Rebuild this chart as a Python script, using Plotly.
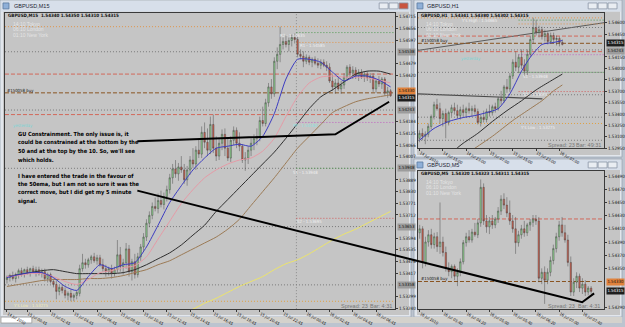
import plotly.graph_objects as go

W, H = 625, 327
def PX(x): return x / W
def PY(y): return 1 - y / H

# ---------------- DATA (prices in points, 1 point = 0.00001) ----------------
m15_open = [153385,153395,153405,153390,153410,153430,153415,153435,153420,153440,
            153425,153435,153415,153425,153390,153410,153375,153360,153325,153345,
            153330,153305,153315,153295,153305,153315,153440,153470,153460,153485,
            153500,153480,153495,153460,153440,153425,153440,153415,153435,153510,
            153450,153470,153540,153425,153475,153410,153500,153550,153600,153670,
            153710,153755,153745,153785,153765,153805,153840,153900,153945,153920,
            153955,153940,153890,153940,153990,153970,154040,154020,154130,154080,
            154040,154170,154050,154010,154075,154120,154050,154000,154090,154140,
            154075,154060,153990,154000,154040,154075,154100,154110,154190,154175,
            154280,154360,154325,154490,154525,154575,154590,154575,154595,154610,
            154600,154525,154515,154490,154510,154485,154500,154480,154470,154485,
            154470,154460,154390,154360,154380,154350,154370,154410,154460,154430,
            154445,154415,154435,154410,154425,154405,154415,154350,154390,154375,
            154400,154330,154340]
m15_high = [153405,153415,153425,153420,153440,153445,153440,153450,153445,153455,
            153450,153450,153440,153440,153420,153420,153390,153380,153355,153360,
            153345,153325,153335,153315,153330,153460,153515,153490,153495,153510,
            153520,153510,153510,153490,153460,153450,153460,153450,153585,153550,
            153490,153570,153560,153490,153515,153520,153565,153620,153690,153730,
            153775,153800,153820,153835,153825,153860,153920,153970,153990,153975,
            154010,153970,153960,154010,154050,154060,154100,154160,154180,154150,
            154210,154220,154110,154100,154145,154150,154100,154110,154160,154155,
            154130,154070,154030,154060,154100,154120,154150,154210,154260,154300,
            154380,154400,154510,154560,154665,154610,154620,154610,154625,154630,
            154615,154550,154540,154525,154520,154510,154515,154505,154500,154500,
            154490,154480,154420,154400,154410,154390,154430,154470,154475,154465,
            154460,154450,154450,154440,154440,154430,154430,154400,154415,154410,
            154410,154360,154350]
m15_low = [153365,153375,153380,153370,153390,153400,153395,153410,153400,153415,
           153400,153405,153395,153375,153370,153365,153345,153285,153305,153315,
           153290,153280,153275,153275,153285,153300,153425,153440,153445,153465,
           153470,153460,153450,153425,153400,153405,153390,153400,153420,153425,
           153410,153440,153400,153380,153390,153395,153480,153530,153580,153650,
           153690,153730,153720,153750,153740,153780,153820,153870,153900,153885,
           153925,153870,153860,153915,153950,153940,154000,154000,154050,154010,
           154020,154025,153985,153990,154040,154010,153985,153980,154065,154050,
           154035,153975,153935,153970,154010,154040,154065,154085,154160,154160,
           154260,154300,154310,154450,154485,154550,154560,154540,154565,154580,
           154510,154500,154460,154475,154470,154460,154470,154455,154450,154460,
           154440,154380,154340,154325,154340,154325,154350,154390,154410,154400,
           154400,154390,154400,154385,154390,154380,154335,154330,154360,154350,
           154315,154305,154310]
m15_close = [153395,153405,153390,153410,153430,153415,153435,153420,153440,153425,
             153435,153415,153425,153390,153410,153375,153360,153325,153345,153330,
             153305,153315,153295,153305,153320,153440,153470,153460,153485,153500,
             153480,153495,153460,153440,153425,153440,153415,153435,153510,153450,
             153470,153540,153425,153475,153410,153500,153550,153600,153670,153710,
             153755,153745,153785,153765,153805,153840,153900,153945,153920,153955,
             153940,153890,153940,153990,153970,154040,154020,154130,154080,154040,
             154170,154050,154010,154075,154120,154050,154000,154090,154140,154075,
             154060,153990,154000,154040,154075,154100,154110,154190,154175,154280,
             154360,154325,154490,154525,154575,154590,154575,154595,154610,154600,
             154525,154515,154490,154510,154485,154500,154480,154470,154485,154470,
             154460,154390,154360,154380,154350,154370,154410,154460,154430,154445,
             154415,154435,154410,154425,154405,154415,154350,154390,154375,154400,
             154330,154340,154315]

m15_ma_x = [0,4,8,12,16,20,24,28,32,36,40,44,48,52,56,60,64,68,72,76,80,84,88,92,96,100,104,108,112,116,120,124,128,132]
m15_ma_blue = [153395,153410,153420,153420,153395,153350,153330,153400,153460,153440,153460,153470,153550,153660,153775,153860,153940,154000,154050,154060,154070,154060,154110,154225,154400,154500,154500,154485,154435,154390,154415,154415,154395,154360]
m15_ma_pink = [153400,153405,153415,153415,153400,153375,153360,153385,153420,153430,153445,153455,153500,153590,153680,153770,153840,153900,153940,153970,153990,154000,154035,154100,154210,154310,154380,154410,154415,154410,154410,154405,154395,154380]
m15_ma_black = [153400,153410,153420,153430,153435,153425,153415,153415,153415,153415,153420,153435,153460,153490,153520,153560,153610,153660,153730,153790,153850,153910,153970,154030,154100,154175,154250,154310,154345,154385,154425,154440,154440,154425]
m15_ma_brown = [153350,153360,153370,153380,153385,153385,153385,153390,153390,153395,153405,153420,153435,153460,153480,153510,153540,153570,153600,153640,153690,153760,153830,153900,153975,154050,154110,154170,154230,154260,154285,154300,154310,154320]
m15_ma_yellow_x = [60,64,68,72,76,80,84,88,92,96,100,104,108,112,116,120,124,128,132]
m15_ma_yellow = [153210,153235,153265,153290,153320,153350,153375,153400,153435,153465,153485,153515,153550,153585,153615,153640,153670,153700,153730]

h1_open = [153080,153145,153106,153132,153236,153366,153522,153470,153340,153405,
           153288,153418,153483,153444,153379,153457,153418,153470,153444,153470,
           153431,153288,153353,153327,153431,153418,153496,153470,153600,153574,
           153756,153730,153899,154081,154016,154146,154042,153964,154185,154380,
           154536,154471,154510,154419,154458,154354,154432,154380,154393,154341]
h1_high = [153184,153210,153171,153275,153392,153561,153600,153548,153444,153470,
           153444,153522,153548,153522,153496,153522,153496,153548,153509,153522,
           153470,153392,153444,153470,153522,153522,153548,153626,153704,153782,
           153860,153938,154120,154224,154185,154250,154120,154250,154432,154666,
           154640,154562,154549,154510,154484,154471,154471,154432,154419,154380]
h1_low = [153028,153054,153002,153093,153197,153327,153444,153275,153236,153080,
          153249,153366,153392,153340,153327,153366,153353,153405,153366,153392,
          153262,153236,153288,153288,153366,153379,153418,153444,153522,153548,
          153678,153691,153860,153964,153938,153990,153899,153912,154146,154328,
          154432,154406,154380,154354,154315,154328,154328,154302,154289,154302]
h1_close = [153145,153106,153132,153236,153366,153522,153470,153340,153405,153288,
            153418,153483,153444,153379,153457,153418,153470,153444,153470,153431,
            153288,153353,153327,153431,153418,153496,153470,153600,153574,153756,
            153730,153899,154081,154016,154146,154042,153964,154185,154380,154536,
            154471,154510,154419,154458,154354,154432,154380,154393,154341,154315]
h1_blue_x = [0,5,10,15,19,23,27,31,35,38,42,46,49]
h1_blue = [153054,153210,153301,153353,153379,153418,153470,153665,153964,154146,154315,154341,154367]
h1_black_x = [12,15,20,25,30,35,40,45,49]
h1_black = [152924,153015,153145,153301,153444,153574,153717,153834,153925]
h1_brown_x = [18,25,32,38,42,46,49]
h1_brown = [152924,153106,153314,153470,153574,153704,153782]

m5_open = [154404,154410,154359,154390,154401,154386,154398,154383,154390,154374,
           154350,154345,154353,154338,154344,154360,154389,154398,154393,154405,
           154401,154419,154473,154422,154413,154422,154416,154425,154437,154455,
           154446,154434,154422,154410,154389,154401,154410,154404,154416,154420,
           154425,154422,154335,154344,154332,154344,154362,154380,154398,154416,
           154404,154393,154359,154314,154329,154338,154320,154326,154314,154320]
m5_high = [154416,154414,154398,154408,154410,154404,154405,154450,154398,154383,
           154359,154356,154356,154350,154365,154393,154404,154408,154410,154419,
           154425,154485,154479,154431,154428,154431,154428,154443,154461,154464,
           154458,154453,154431,154428,154407,154416,154422,154419,154425,154431,
           154431,154428,154350,154353,154350,154368,154386,154404,154422,154428,
           154416,154401,154368,154335,154344,154342,154335,154332,154323,154323]
m5_low = [154395,154350,154353,154383,154380,154380,154375,154372,154368,154345,
          154338,154335,154332,154323,154338,154356,154383,154389,154389,154398,
          154396,154413,154416,154404,154402,154410,154411,154419,154431,154440,
          154428,154416,154404,154372,154383,154395,154398,154399,154407,154413,
          154416,154329,154326,154296,154326,154338,154356,154374,154392,154398,
          154389,154353,154308,154308,154320,154314,154311,154308,154309,154311]
m5_close = [154410,154359,154390,154401,154386,154398,154383,154390,154374,154350,
            154345,154353,154338,154344,154360,154389,154398,154393,154405,154401,
            154419,154473,154422,154413,154422,154416,154425,154437,154455,154446,
            154434,154422,154410,154389,154401,154410,154404,154416,154420,154425,
            154422,154335,154344,154332,154344,154362,154380,154398,154416,154404,
            154393,154359,154314,154329,154338,154320,154326,154314,154320,154315]

# horizontal price levels (points)
level_price = [154665,154635,154585,154538,154425,154243,154220,154180,153948,153948,153695,153653,153358,153275,153054]
level_color = ['#e0964e','#4f9a4f','#e0964e','#7a7a7a','#d2685a','#7a7a7a','#d2685a','#c060c0','#7a7a7a','#4f9a4f','#d25a5a','#7a7a7a','#7a7a7a','#e0a040','#7a7a7a']
level_dash = ['dot','dot','dot','dot','dash','dot','dash','dot','dot','dot','dot','dot','dot','dot','dot']
level_today = [False,True,True,False,False,False,False,True,False,True,True,False,False,False,False]
boxed_levels = [154538,154243,153948,153653,153358]
order_price = 154330
bid_price = 154315

m15_tick_vals = [154715,154656,154597,154479,154420,154184,154125,154066,154007,153889,153830,153771,153712,153594,153535,153476,153417,153299,153240]
h1_tick_vals = [154600,154450,154150,154000,153850,153700,153550,153400,153250,153100,152950]
m5_tick_vals = [154490,154470,154450,154430,154410,154390,154370,154350,154290]

m15_time_bars = [0,7,15,23,31,39,47,55,63,71,79,87,95,103,111,119,127]
m15_time_text = ['14 Jul 2010','15 Jul 00:45','15 Jul 02:45','15 Jul 04:45','15 Jul 06:45','15 Jul 08:45','15 Jul 10:45','15 Jul 12:45','15 Jul 14:45','15 Jul 16:45','15 Jul 18:45','15 Jul 20:45','15 Jul 22:45','16 Jul 00:45','16 Jul 02:45','16 Jul 04:45','16 Jul 06:45']
h1_time_bars = [0,8,16,24,32,40,48]
h1_time_text = ['14 Jul 2010','14 Jul 15:00','14 Jul 23:00','15 Jul 07:00','15 Jul 15:00','15 Jul 23:00','16 Jul 07:00']
m5_time_bars = [0,8,16,24,32,40,48,56]
m5_time_text = ['16 Jul 2010','16 Jul 03:40','16 Jul 04:20','16 Jul 05:00','16 Jul 05:40','16 Jul 06:20','16 Jul 07:00','16 Jul 07:40']

comment1 = ["GU Constrainment. The only issue is, it",
            "could be constrained at the bottom by the",
            "50 and at the top by the 10. So, we'll see",
            "which holds."]
comment2 = ["I have entered the trade in the favour of",
            "the 50ema, but I am not so sure it was the",
            "correct move, but I did get my 5 minute",
            "signal."]

# ---------------- STYLE ----------------
def pts(a): return [v / 100000 for v in a]

CHART = '#c5c5c5'
FRAME = '#e2e6ec'
TITLE = '#d7dfea'
UP = '#8fd08f'
DN = '#cc5e4c'
WICK = '#404040'
NARROW = 'Liberation Sans Narrow, DejaVu Sans Condensed, Liberation Sans, Arial'
SANS = 'Liberation Sans, Arial'

fig = go.Figure()

def add_candles(o, h, l, c, xa, ya):
    fig.add_trace(go.Candlestick(
        x=list(range(len(o))), open=pts(o), high=pts(h), low=pts(l), close=pts(c),
        xaxis=xa, yaxis=ya, whiskerwidth=0,
        increasing=dict(fillcolor=UP, line=dict(color=WICK, width=0.45)),
        decreasing=dict(fillcolor=DN, line=dict(color=WICK, width=0.45)),
        hoverinfo='skip', showlegend=False))

def add_line(x, y, color, xa, ya, width=1):
    fig.add_trace(go.Scatter(x=x, y=pts(y), mode='lines', xaxis=xa, yaxis=ya,
                             line=dict(color=color, width=width, shape='spline', smoothing=0.6),
                             hoverinfo='skip', showlegend=False))

# M15
add_line(m15_ma_yellow_x, m15_ma_yellow, '#ece46a', 'x', 'y')
add_line(m15_ma_x, m15_ma_brown, '#9b7a55', 'x', 'y')
add_line(m15_ma_x, m15_ma_black, '#2e2e2e', 'x', 'y')
add_line(m15_ma_x, m15_ma_pink, '#e59aa6', 'x', 'y')
add_candles(m15_open, m15_high, m15_low, m15_close, 'x', 'y')
add_line(m15_ma_x, m15_ma_blue, '#3c3cc0', 'x', 'y')
# H1
add_line(h1_brown_x, h1_brown, '#9b7a55', 'x2', 'y2')
add_line(h1_black_x, h1_black, '#2e2e2e', 'x2', 'y2')
add_candles(h1_open, h1_high, h1_low, h1_close, 'x2', 'y2')
add_line(h1_blue_x, h1_blue, '#3c3cc0', 'x2', 'y2')
# M5
add_candles(m5_open, m5_high, m5_low, m5_close, 'x3', 'y3')

# axis geometry
ranges = {
    'm15': dict(x=[-0.685, 133.56], y=[1.53235, 1.54735], xd=[PX(5), PX(397)], yd=[PY(313), PY(13)]),
    'h1': dict(x=[-0.512, 63.31], y=[1.52950, 1.54731], xd=[PX(420), PX(607)], yd=[PY(150), PY(13)]),
    'm5': dict(x=[-0.582, 63.46], y=[1.54288, 1.54498], xd=[PX(420), PX(607)], yd=[PY(313), PY(173)]),
}

def xcfg(r, tv, tt, anchor):
    return dict(domain=r['xd'], range=r['x'], anchor=anchor, showgrid=False, zeroline=False,
                showline=True, linecolor='#3a3a3a', linewidth=1, mirror=True,
                ticks='outside', ticklen=2, tickcolor='#3a3a3a', tickwidth=1,
                tickvals=tv, ticktext=tt, ticklabelposition='outside right',
                tickfont=dict(size=4, color='#111', family=NARROW),
                rangeslider=dict(visible=False), fixedrange=True)

def ycfg(r, tv, anchor):
    return dict(domain=r['yd'], range=r['y'], anchor=anchor, side='right', showgrid=False,
                zeroline=False, showline=True, linecolor='#3a3a3a', linewidth=1, mirror=True,
                ticks='outside', ticklen=2, tickcolor='#3a3a3a', tickwidth=1,
                tickvals=pts(tv), ticktext=['%.5f' % (v / 100000) for v in tv],
                tickfont=dict(size=4.5, color='#111', family=NARROW), fixedrange=True)

fig.update_layout(
    width=W, height=H, margin=dict(l=0, r=0, t=0, b=0),
    paper_bgcolor='#bcc4cf', plot_bgcolor=CHART, showlegend=False,
    xaxis=xcfg(ranges['m15'], m15_time_bars, m15_time_text, 'y'),
    yaxis=ycfg(ranges['m15'], m15_tick_vals, 'x'),
    xaxis2=xcfg(ranges['h1'], h1_time_bars, h1_time_text, 'y2'),
    yaxis2=ycfg(ranges['h1'], h1_tick_vals, 'x2'),
    xaxis3=xcfg(ranges['m5'], m5_time_bars, m5_time_text, 'y3'),
    yaxis3=ycfg(ranges['m5'], m5_tick_vals, 'x3'),
)

# ---------------- window chrome ----------------
def rect(x0, y0, x1, y1, fill, line=None, layer='below'):
    fig.add_shape(type='rect', xref='paper', yref='paper', x0=PX(x0), x1=PX(x1), y0=PY(y1), y1=PY(y0),
                  fillcolor=fill, line=dict(width=0) if line is None else dict(color=line, width=0.8),
                  layer=layer)

def text(x, y, s, size=5, color='#000', anchor='left', family=SANS, bg=None, yanchor='middle'):
    fig.add_annotation(x=PX(x), y=PY(y), xref='paper', yref='paper', text=s, showarrow=False,
                       xanchor=anchor, yanchor=yanchor, font=dict(size=size, color=color, family=family),
                       bgcolor=bg, borderpad=0)

for (x0, y0, x1, y1, ty) in [(0, 0, 413, 321, 12), (416, 0, 625, 159, 12), (416, 161, 625, 321, 172)]:
    rect(x0, y0, x1, y1, FRAME, line='#9aa4b2')
    rect(x0 + 1, y0 + 1, x1 - 1, ty, TITLE)
    rect(x0 + 3, ty, x1 - 2, y1 - 2, CHART)
    rect(x0 + 3, y0 + 3, x0 + 9, y0 + 9, '#8fb0d8', line='#5b7aa0')
rect(0, 321, 625, 327, '#d4d2cc')
rect(1, 321, 32, 327, '#ffffff', line='#9a9a9a')

for bx, by, last in [(381, 3, '#c9553f'), (591, 3, '#e9edf2'), (591, 164, '#e9edf2')]:
    rect(bx, by, bx + 9, by + 6, '#e9edf2', line='#8a96a6')
    rect(bx + 10, by, bx + 19, by + 6, '#e9edf2', line='#8a96a6')
    rect(bx + 20, by, bx + 29, by + 6, last, line='#8a96a6')

text(13, 6.5, 'GBPUSD,M15', 5.5, '#1c2533')
text(428, 6.5, 'GBPUSD,H1', 5.5, '#1c2533')
text(428, 167, 'GBPUSD,M5', 5.5, '#1c2533')

# ---------------- chart objects ----------------
charts = [('x', 'y', 'm15', 99.6), ('x2', 'y2', 'h1', 34), ('x3', 'y3', 'm5', 40)]
for xa, ya, key, today in charts:
    r = ranges[key]
    for p, col, dash, td in zip(level_price, level_color, level_dash, level_today):
        pv = p / 100000
        if not (r['y'][0] < pv < r['y'][1]):
            continue
        d = '1px,2px' if dash == 'dot' else '4px,2px'
        fig.add_shape(type='line', xref=xa, yref=ya, x0=today if td else r['x'][0], x1=r['x'][1],
                      y0=pv, y1=pv, line=dict(color=col, width=1, dash=d), layer='below')
    fig.add_shape(type='line', xref=xa, yref=ya, x0=r['x'][0], x1=r['x'][1],
                  y0=order_price / 100000, y1=order_price / 100000,
                  line=dict(color='#8a5420', width=1, dash='4px,2px'), layer='below')

# day separator on M15
fig.add_shape(type='line', xref='x', yref='y domain', x0=99.6, x1=99.6, y0=0, y1=1,
              line=dict(color='#8a8a8a', width=1, dash='1px,2px'), layer='below')

# H1 trend lines
fig.add_shape(type='line', xref='paper', yref='paper', x0=PX(420), y0=PY(51), x1=PX(607), y1=PY(23),
              line=dict(color='#5a5a5a', width=1), layer='below')
fig.add_shape(type='line', xref='paper', yref='paper', x0=PX(420), y0=PY(95), x1=PX(545), y1=PY(100),
              line=dict(color='#4a4a4a', width=1.2), layer='below')

# axis value boxes
def box(ya, xpx, p, bg, fg='#111', shift=0):
    fig.add_annotation(x=PX(xpx), xref='paper', y=p / 100000, yref=ya, text='%.5f' % (p / 100000),
                       showarrow=False, xanchor='left', yanchor='middle', bgcolor=bg, borderpad=0.4,
                       yshift=shift, font=dict(size=4.3, color=fg, family=NARROW))

for p in boxed_levels:
    box('y', 398.5, p, '#9c9c9c')
box('y2', 608.5, 154243, '#9c9c9c', shift=-1)
box('y', 398.5, order_price, '#e0823c', shift=2)
box('y', 398.5, bid_price, '#1e1e1e', '#ffffff', shift=-2)
box('y2', 608.5, bid_price, '#1e1e1e', '#ffffff', shift=1)
box('y3', 608.5, order_price, '#e0823c')
box('y3', 608.5, bid_price, '#1e1e1e', '#ffffff')

# headers & labels
def hdr(name, o, h, l, c):
    return '<b>%s  %.5f %.5f %.5f %.5f</b>' % (name, o[-1] / 1e5, h[-1] / 1e5, l[-1] / 1e5, c[-1] / 1e5)

text(7, 16, hdr('GBPUSD,M15', m15_open, m15_high, m15_low, m15_close), 4.5, '#111', family=NARROW)
text(422, 16, hdr('GBPUSD,H1', h1_open, h1_high, h1_low, h1_close), 4.5, '#111', family=NARROW)
text(422, 176, hdr('GBPUSD,M5', m5_open, m5_high, m5_low, m5_close), 4.5, '#111', family=NARROW)

sess = ['14:10 Tokyo', '06:10 London', '01:10 New York']
for bx, by in [(12, 24), (427, 24), (427, 184)]:
    for i, s in enumerate(sess):
        text(bx, by + i * 5.6, s, 5, '#e4e4e4')

for bx, by in [(6, 91.5), (422, 41.5), (422, 282)]:
    text(bx, by, '#150058 buy', 4.3, '#1a1a1a', family=NARROW)

lab = '#f0f0f0'
text(280, 36, 'R2 - 1.54635', 4.3, lab, family=NARROW)
text(300, 46, 'R1 - 1.54585', 4.3, lab, family=NARROW)
text(293, 127, 'PP - 1.54180', 4.3, '#8fe0e0', family=NARROW)
text(293, 175, 'S1 - 1.53948', 4.3, lab, family=NARROW)
text(297, 224.5, 'S2 - 1.53695', 4.3, lab, family=NARROW)
text(12, 309, "Y's Low : 1.53275", 4.3, '#f4eeb8', family=NARROW)
text(12, 127, 'yesterday', 4.3, '#7ad6d6', family=NARROW)
text(462, 21, "Y's High : 1.54665", 4.3, lab, family=NARROW)
text(462, 59, 'yesterday', 4.3, '#7ad6d6', family=NARROW)
text(525, 77, 'S1 - 1.53948', 4.3, lab, family=NARROW)
text(525, 96, 'S2 - 1.53695', 4.3, lab, family=NARROW)
text(522, 129.5, "Y's Low : 1.53275", 4.3, lab, family=NARROW)

for x0, x1, y, bar in [(342, 371, 310, 'Bar: 4:31'), (550, 578, 146.5, 'Bar: 49:31'), (550, 580, 310, 'Bar: 4:31')]:
    text(x0, y, 'Spread: 23', 5.5, '#767676')
    text(x1, y, bar, 5.5, '#767676')

# user comments
for i, s in enumerate(comment1):
    text(17, 136 + i * 8.6, '<b>%s</b>' % s, 5.6, '#000', family=NARROW)
for i, s in enumerate(comment2):
    text(17, 178 + i * 8.6, '<b>%s</b>' % s, 5.6, '#000', family=NARROW)

# hand-drawn black lines
fig.add_shape(type='path', xref='paper', yref='paper', layer='above',
              path='M %f,%f L %f,%f L %f,%f' % (PX(138), PY(143), PX(337), PY(136), PX(391), PY(103)),
              line=dict(color='#000', width=2))
fig.add_shape(type='path', xref='paper', yref='paper', layer='above',
              path='M %f,%f L %f,%f L %f,%f' % (PX(138), PY(193), PX(585), PY(306), PX(597), PY(297)),
              line=dict(color='#000', width=2))

fig.write_html('out.html')
